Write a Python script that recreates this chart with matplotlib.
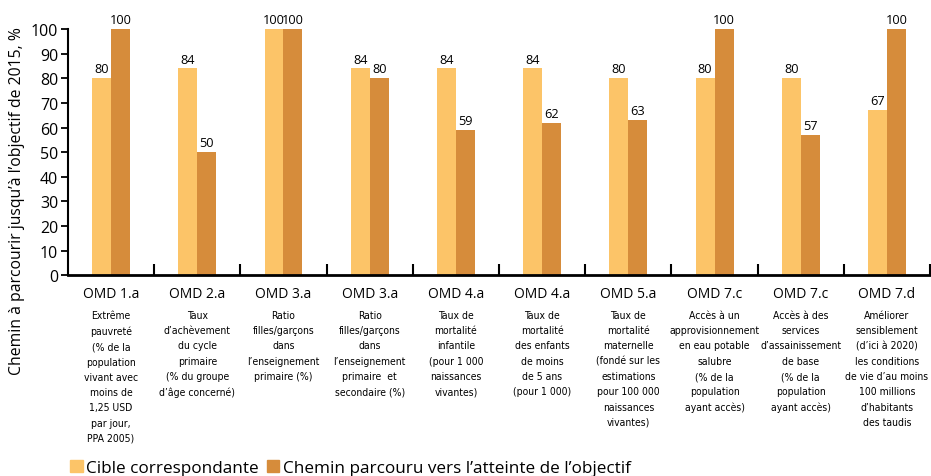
import matplotlib
matplotlib.use('Agg')
import matplotlib.pyplot as plt
import matplotlib.patches as mpatches
from matplotlib import font_manager as fm
import numpy as np

plt.rcParams['font.family'] = ['Open Sans', 'DejaVu Sans']

# ── data ─────────────────────────────────────────────
codes = ['OMD 1.a', 'OMD 2.a', 'OMD 3.a', 'OMD 3.a', 'OMD 4.a',
         'OMD 4.a', 'OMD 5.a', 'OMD 7.c', 'OMD 7.c', 'OMD 7.d']
descriptions = [
    'Extrême\npauvreté\n(% de la\npopulation\nvivant avec\nmoins de\n1,25 USD\npar jour,\nPPA 2005)',
    'Taux\nd\u2019achèvement\ndu cycle\nprimaire\n(% du groupe\nd\u2019âge concerné)',
    'Ratio\nfilles/garçons\ndans\nl\u2019enseignement\nprimaire (%)',
    'Ratio\nfilles/garçons\ndans\nl\u2019enseignement\nprimaire  et\nsecondaire (%)',
    'Taux de\nmortalité\ninfantile\n(pour 1 000\nnaissances\nvivantes)',
    'Taux de\nmortalité\ndes enfants\nde moins\nde 5 ans\n(pour 1 000)',
    'Taux de\nmortalité\nmaternelle\n(fondé sur les\nestimations\npour 100 000\nnaissances\nvivantes)',
    'Accès à un\napprovisionnement\nen eau potable\nsalubre\n(% de la\npopulation\nayant accès)',
    'Accès à des\nservices\nd\u2019assainissement\nde base\n(% de la\npopulation\nayant accès)',
    'Améliorer\nsensiblement\n(d\u2019ici à 2020)\nles conditions\nde vie d\u2019au moins\n100 millions\nd\u2019habitants\ndes taudis',
]
cible = [80, 84, 100, 84, 84, 84, 80, 80, 80, 67]
chemin = [100, 50, 100, 80, 59, 62, 63, 100, 57, 100]

C_LIGHT = '#FCC468'
C_DARK = '#D68C3B'

# narrow font for the long descriptions, if one is around
narrow = None
for f in fm.fontManager.ttflist:
    fn = f.fname.lower()
    if ('narrow' in fn or 'condensed' in fn) and 'bold' not in fn and 'oblique' not in fn \
            and 'italic' not in fn and 'mono' not in fn and 'serif' not in fn.replace('sans', ''):
        narrow = f.fname
        break
if narrow:
    desc_font = fm.FontProperties(fname=narrow, size=7.5)
    desc_ls = 1.66
else:
    desc_font = fm.FontProperties(family=['Liberation Sans', 'DejaVu Sans'], size=6.6)
    desc_ls = 1.85

fig = plt.figure(figsize=(9.31, 4.77), dpi=100, facecolor='white')
ax = fig.add_axes([0.073, 0.421, 0.926, 0.516])

x = np.arange(len(codes))
w = 0.22
b1 = ax.bar(x - w / 2, cible, width=w, color=C_LIGHT, zorder=2)
b2 = ax.bar(x + w / 2, chemin, width=w, color=C_DARK, zorder=2)

for bars, vals in ((b1, cible), (b2, chemin)):
    for r, v in zip(bars, vals):
        ax.annotate(str(v), (r.get_x() + r.get_width() / 2, v),
                    xytext=(0, 2), textcoords='offset points',
                    ha='center', va='bottom', fontsize=9.2, clip_on=False)

ax.set_xlim(-0.5, len(codes) - 0.5)
ax.set_ylim(0, 100)
ax.set_yticks(range(0, 101, 10))
ax.tick_params(axis='y', labelsize=11.5, length=5, width=1.3, pad=2)
ax.set_xticks(x + 0.5)
ax.set_xticklabels([])
ax.tick_params(axis='x', direction='in', length=8, width=1.5)
for s in ('top', 'right'):
    ax.spines[s].set_visible(False)
ax.spines['left'].set_linewidth(1.5)
ax.spines['bottom'].set_linewidth(2)

# category labels under the axis
for i, (c, d) in enumerate(zip(codes, descriptions)):
    ax.annotate(c, (i, 0), xycoords=('data', 'axes fraction'),
                xytext=(0, -8), textcoords='offset points',
                ha='center', va='top', fontsize=10)
    ax.annotate(d, (i, 0), xycoords=('data', 'axes fraction'),
                xytext=(0, -25), textcoords='offset points',
                ha='center', va='top', linespacing=desc_ls,
                fontproperties=desc_font)

fig.text(0.018, 0.578, 'Chemin à parcourir jusqu\u2019à l\u2019objectif de 2015, %',
         rotation=90, ha='center', va='center', fontsize=11.3)

handles = [mpatches.Patch(color=C_LIGHT, label='Cible correspondante'),
           mpatches.Patch(color=C_DARK, label='Chemin parcouru vers l\u2019atteinte de l\u2019objectif')]
fig.legend(handles=handles, loc='lower left', bbox_to_anchor=(0.068, -0.014),
           ncol=2, frameon=False, fontsize=12.3, handlelength=0.75, handleheight=0.75,
           handletextpad=0.2, columnspacing=0.45, borderaxespad=0)

fig.savefig('out.png', dpi=100, facecolor='white')
